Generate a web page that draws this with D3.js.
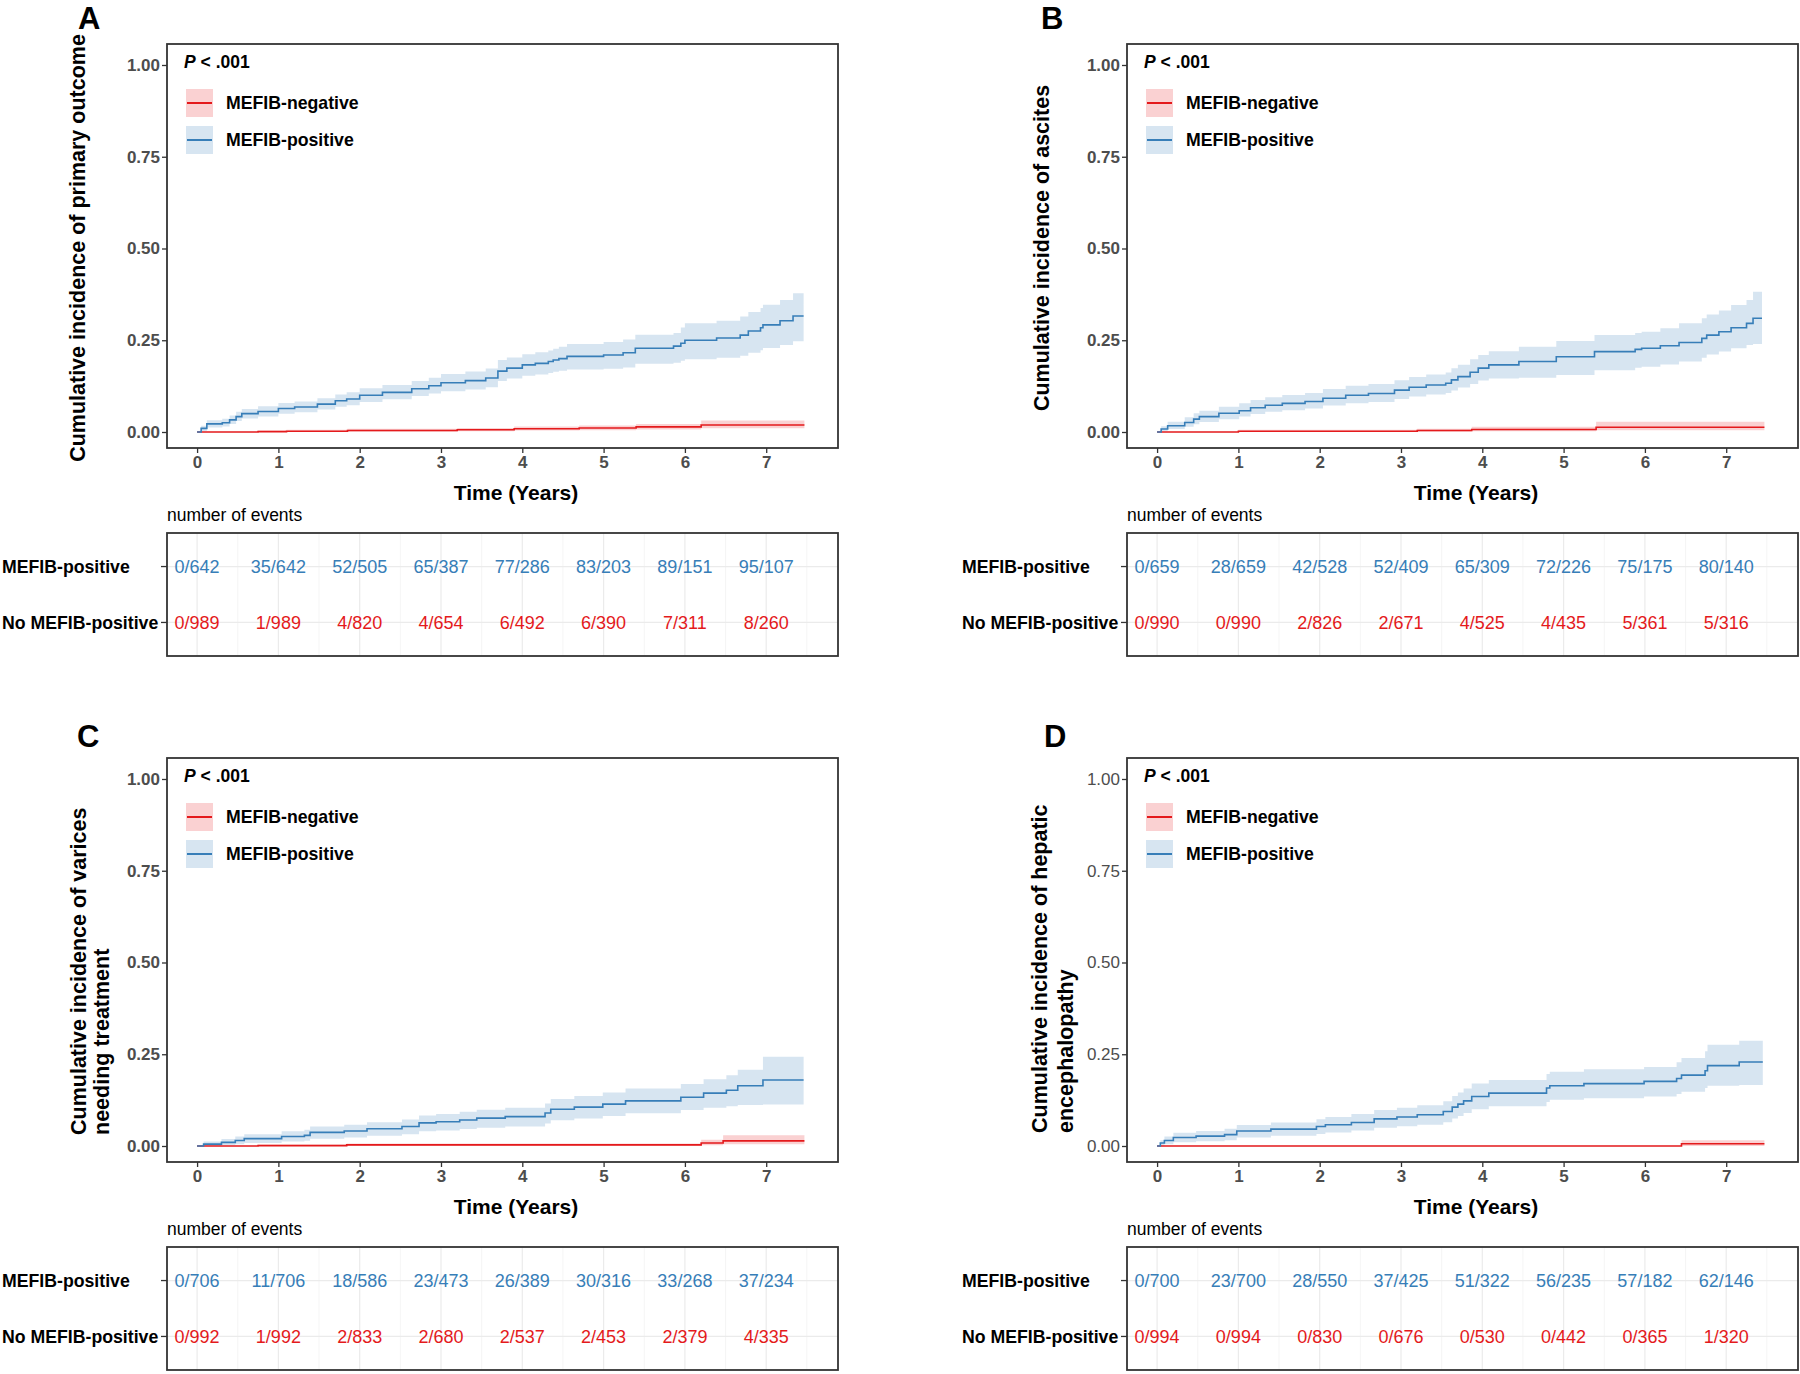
<!DOCTYPE html>
<html>
<head>
<meta charset="utf-8">
<script src="https://cdn.jsdelivr.net/npm/d3@7"></script>
<style>
  body { margin: 0; background: #fff; }
  svg { font-family: "Liberation Sans", Arial, Helvetica, sans-serif; }
</style>
</head>
<body>
<svg id="chart" width="1800" height="1374"></svg>
<script>
// ---- Panel A: primary outcome ----
const aPosT  = [0, 0.05, 0.12, 0.31, 0.40, 0.48, 0.55, 0.75, 1.00, 1.20, 1.48, 1.70, 1.84, 2.00, 2.28, 2.64, 2.85, 3.00, 3.30, 3.55, 3.70, 3.81, 4.00, 4.16, 4.32, 4.38, 4.45, 4.55, 5.00, 5.24, 5.39, 5.86, 5.95, 6.00, 6.39, 6.68, 6.78, 6.93, 6.96, 7.17, 7.33, 7.46];
const aPos   = [0, 0.010, 0.022, 0.025, 0.033, 0.042, 0.050, 0.056, 0.064, 0.068, 0.076, 0.085, 0.090, 0.100, 0.108, 0.118, 0.126, 0.134, 0.140, 0.147, 0.166, 0.174, 0.183, 0.187, 0.192, 0.196, 0.200, 0.206, 0.210, 0.216, 0.228, 0.234, 0.242, 0.250, 0.256, 0.264, 0.275, 0.284, 0.292, 0.303, 0.316, 0.316];
const aPosLo = [0, 0.003, 0.012, 0.015, 0.022, 0.030, 0.037, 0.042, 0.050, 0.054, 0.061, 0.069, 0.073, 0.082, 0.089, 0.098, 0.105, 0.111, 0.116, 0.122, 0.139, 0.146, 0.153, 0.157, 0.161, 0.164, 0.167, 0.170, 0.172, 0.176, 0.186, 0.189, 0.194, 0.198, 0.202, 0.208, 0.216, 0.223, 0.229, 0.237, 0.247, 0.247];
const aPosHi = [0, 0.017, 0.032, 0.036, 0.045, 0.055, 0.063, 0.070, 0.079, 0.083, 0.092, 0.102, 0.108, 0.119, 0.128, 0.139, 0.148, 0.158, 0.165, 0.173, 0.196, 0.203, 0.212, 0.217, 0.222, 0.227, 0.232, 0.240, 0.245, 0.252, 0.265, 0.270, 0.285, 0.296, 0.303, 0.315, 0.327, 0.338, 0.347, 0.360, 0.378, 0.378];
const aNegT  = [0, 0.75, 1.10, 1.85, 3.20, 3.90, 4.70, 5.40, 6.20, 7.47];
const aNeg   = [0, 0.001, 0.002, 0.004, 0.006, 0.009, 0.011, 0.014, 0.019, 0.019];
const aNegLo = [0, 0, 0, 0.001, 0.002, 0.004, 0.005, 0.007, 0.010, 0.010];
const aNegHi = [0, 0.004, 0.006, 0.009, 0.011, 0.015, 0.018, 0.022, 0.031, 0.031];
const aTabPos = ["0/642", "35/642", "52/505", "65/387", "77/286", "83/203", "89/151", "95/107"];
const aTabNeg = ["0/989", "1/989", "4/820", "4/654", "6/492", "6/390", "7/311", "8/260"];

// ---- Panel B: ascites ----
const bPosT  = [0, 0.05, 0.13, 0.34, 0.45, 0.52, 0.76, 1.01, 1.15, 1.33, 1.54, 1.82, 2.04, 2.32, 2.60, 2.92, 3.10, 3.31, 3.55, 3.62, 3.70, 3.85, 3.95, 4.08, 4.45, 4.91, 5.38, 5.88, 5.96, 6.19, 6.42, 6.70, 6.76, 6.91, 7.06, 7.25, 7.33, 7.44];
const bPos   = [0, 0.008, 0.017, 0.026, 0.035, 0.042, 0.051, 0.058, 0.066, 0.073, 0.078, 0.083, 0.092, 0.100, 0.105, 0.114, 0.122, 0.128, 0.133, 0.142, 0.151, 0.163, 0.174, 0.183, 0.192, 0.205, 0.219, 0.225, 0.228, 0.235, 0.244, 0.255, 0.264, 0.273, 0.284, 0.296, 0.310, 0.310];
const bPosLo = [0, 0.002, 0.008, 0.014, 0.021, 0.027, 0.035, 0.042, 0.049, 0.055, 0.059, 0.064, 0.072, 0.078, 0.082, 0.090, 0.097, 0.102, 0.106, 0.113, 0.121, 0.131, 0.140, 0.146, 0.148, 0.155, 0.168, 0.175, 0.178, 0.184, 0.192, 0.202, 0.211, 0.219, 0.228, 0.237, 0.240, 0.240];
const bPosHi = [0, 0.016, 0.028, 0.040, 0.051, 0.058, 0.069, 0.078, 0.087, 0.095, 0.101, 0.106, 0.117, 0.126, 0.131, 0.141, 0.150, 0.157, 0.162, 0.174, 0.183, 0.198, 0.210, 0.220, 0.232, 0.248, 0.264, 0.270, 0.273, 0.283, 0.296, 0.310, 0.320, 0.331, 0.346, 0.360, 0.382, 0.382];
const bNegT  = [0, 1.00, 3.20, 3.87, 5.40, 7.47];
const bNeg   = [0, 0.002, 0.004, 0.007, 0.013, 0.013];
const bNegLo = [0, 0, 0.001, 0.002, 0.005, 0.005];
const bNegHi = [0, 0.006, 0.009, 0.014, 0.028, 0.028];
const bTabPos = ["0/659", "28/659", "42/528", "52/409", "65/309", "72/226", "75/175", "80/140"];
const bTabNeg = ["0/990", "0/990", "2/826", "2/671", "4/525", "4/435", "5/361", "5/316"];

// ---- Panel C: varices needing treatment ----
const cPosT  = [0, 0.08, 0.30, 0.47, 0.58, 1.04, 1.32, 1.39, 1.81, 2.09, 2.52, 2.73, 2.94, 3.23, 3.44, 3.79, 4.28, 4.35, 4.64, 4.99, 5.27, 5.95, 6.23, 6.51, 6.65, 6.96, 7.46];
const cPos   = [0, 0.005, 0.010, 0.015, 0.020, 0.026, 0.029, 0.037, 0.041, 0.047, 0.053, 0.063, 0.066, 0.071, 0.076, 0.080, 0.090, 0.100, 0.106, 0.114, 0.123, 0.133, 0.144, 0.152, 0.164, 0.180, 0.180];
const cPosLo = [0, 0, 0.002, 0.005, 0.008, 0.012, 0.014, 0.020, 0.023, 0.028, 0.032, 0.040, 0.042, 0.046, 0.050, 0.053, 0.061, 0.070, 0.075, 0.082, 0.089, 0.098, 0.104, 0.108, 0.112, 0.113, 0.113];
const cPosHi = [0, 0.012, 0.019, 0.026, 0.032, 0.040, 0.044, 0.053, 0.058, 0.065, 0.072, 0.083, 0.087, 0.093, 0.099, 0.104, 0.116, 0.128, 0.136, 0.146, 0.157, 0.169, 0.182, 0.193, 0.208, 0.243, 0.243];
const cNegT  = [0, 0.75, 1.84, 6.20, 6.47, 7.47];
const cNeg   = [0, 0.001, 0.003, 0.008, 0.014, 0.014];
const cNegLo = [0, 0, 0, 0.002, 0.005, 0.005];
const cNegHi = [0, 0.004, 0.007, 0.017, 0.029, 0.029];
const cTabPos = ["0/706", "11/706", "18/586", "23/473", "26/389", "30/316", "33/268", "37/234"];
const cTabNeg = ["0/992", "1/992", "2/833", "2/680", "2/537", "2/453", "2/379", "4/335"];

// ---- Panel D: hepatic encephalopathy ----
const dPosT  = [0, 0.04, 0.09, 0.20, 0.48, 0.83, 0.98, 1.40, 1.96, 2.07, 2.39, 2.67, 2.95, 3.20, 3.52, 3.63, 3.70, 3.77, 3.87, 4.08, 4.79, 4.83, 5.25, 5.99, 6.39, 6.45, 6.74, 6.77, 7.16, 7.45];
const dPos   = [0, 0.008, 0.015, 0.023, 0.027, 0.031, 0.041, 0.046, 0.053, 0.058, 0.064, 0.074, 0.079, 0.085, 0.094, 0.106, 0.114, 0.123, 0.135, 0.144, 0.158, 0.164, 0.170, 0.176, 0.184, 0.193, 0.205, 0.219, 0.229, 0.229];
const dPosLo = [0, 0.001, 0.005, 0.010, 0.013, 0.016, 0.023, 0.028, 0.033, 0.037, 0.042, 0.050, 0.054, 0.058, 0.065, 0.075, 0.082, 0.090, 0.100, 0.108, 0.120, 0.126, 0.130, 0.135, 0.142, 0.148, 0.158, 0.164, 0.166, 0.166];
const dPosHi = [0, 0.016, 0.026, 0.036, 0.041, 0.047, 0.057, 0.064, 0.073, 0.079, 0.087, 0.098, 0.104, 0.111, 0.122, 0.136, 0.146, 0.157, 0.170, 0.180, 0.196, 0.202, 0.209, 0.215, 0.228, 0.240, 0.258, 0.276, 0.287, 0.287];
const dNegT  = [0, 6.45, 7.47];
const dNeg   = [0, 0.006, 0.006];
const dNegLo = [0, 0, 0];
const dNegHi = [0.001, 0.016, 0.016];
const dTabPos = ["0/700", "23/700", "28/550", "37/425", "51/322", "56/235", "57/182", "62/146"];
const dTabNeg = ["0/994", "0/994", "0/830", "0/676", "0/530", "0/442", "0/365", "1/320"];

// shared labels
const yTicks = [0, 0.25, 0.5, 0.75, 1];
const xTicks = [0, 1, 2, 3, 4, 5, 6, 7];
const tabYears = [0, 1, 2, 3, 4, 5, 6, 7];
const legendLabels = ["MEFIB-negative", "MEFIB-positive"];
const rowLabels = ["MEFIB-positive", "No MEFIB-positive"];

const RED = "#E41A1C";
const BLUE = "#377EB8";
const DARK = "#333333";
const TICKTXT = "#4D4D4D";

const panelW = 671, panelH = 404;
const tabTop = 489, tabH = 123;
const colLeft = [167, 1127];
const rowTop = [44, 758];

const panels = [
    { letter: "A", col: 0, row: 0, title: ["Cumulative incidence of primary outcome"], titleX: [-82], titleY: null,
      posT: aPosT, pos: aPos, posLo: aPosLo, posHi: aPosHi, negT: aNegT, neg: aNeg, negLo: aNegLo, negHi: aNegHi,
      tabPos: aTabPos, tabNeg: aTabNeg, boldY: true, letterX: 78 },
    { letter: "B", col: 1, row: 0, title: ["Cumulative incidence of ascites"], titleX: [-78], titleY: null,
      posT: bPosT, pos: bPos, posLo: bPosLo, posHi: bPosHi, negT: bNegT, neg: bNeg, negLo: bNegLo, negHi: bNegHi,
      tabPos: bTabPos, tabNeg: bTabNeg, boldY: true, letterX: 1041 },
    { letter: "C", col: 0, row: 1, title: ["Cumulative incidence of varices", "needing treatment"], titleX: [-81, -58], titleY: 377,
      posT: cPosT, pos: cPos, posLo: cPosLo, posHi: cPosHi, negT: cNegT, neg: cNeg, negLo: cNegLo, negHi: cNegHi,
      tabPos: cTabPos, tabNeg: cTabNeg, boldY: true, letterX: 77 },
    { letter: "D", col: 1, row: 1, title: ["Cumulative incidence of hepatic", "encephalopathy"], titleX: [-80, -54], titleY: 375,
      posT: dPosT, pos: dPos, posLo: dPosLo, posHi: dPosHi, negT: dNegT, neg: dNeg, negLo: dNegLo, negHi: dNegHi,
      tabPos: dTabPos, tabNeg: dTabNeg, boldY: false, letterX: 1044 }
];

const svg = d3.select("#chart");

const x = d3.scaleLinear().domain([-0.37, 7.883]).range([0, panelW]);
const y = d3.scaleLinear().domain([-0.0436, 1.0572]).range([panelH, 0]);
const yTab = d3.scalePoint().domain(["No MEFIB-positive", "MEFIB-positive"]).range([tabH, 0]).padding(0.6);

function series(ts, est, lo, hi) {
    return ts.map((t, i) => ({ t: t, v: est[i], lo: lo[i], hi: hi[i] }));
}

const line = d3.line().curve(d3.curveStepAfter).x(d => x(d.t)).y(d => y(d.v));
const band = d3.area().curve(d3.curveStepAfter).x(d => x(d.t)).y0(d => y(d.lo)).y1(d => y(d.hi));

function drawPanel(p) {
    const left = colLeft[p.col], top = rowTop[p.row];
    const g = svg.append("g").attr("transform", `translate(${left},${top})`);

    // panel letter
    svg.append("text")
        .attr("x", p.letterX).attr("y", top - 15 + (p.row ? 4 : 0))
        .attr("font-size", 31).attr("font-weight", "bold")
        .text(p.letter);

    // bands + curves
    const neg = series(p.negT, p.neg, p.negLo, p.negHi);
    const pos = series(p.posT, p.pos, p.posLo, p.posHi);

    g.append("path").datum(neg).attr("d", band).attr("fill", RED).attr("fill-opacity", 0.2);
    g.append("path").datum(pos).attr("d", band).attr("fill", BLUE).attr("fill-opacity", 0.2);
    g.append("path").datum(neg).attr("d", line).attr("fill", "none").attr("stroke", RED).attr("stroke-width", 1.6);
    g.append("path").datum(pos).attr("d", line).attr("fill", "none").attr("stroke", BLUE).attr("stroke-width", 1.6);

    // axes
    const yAxis = g.append("g")
        .call(d3.axisLeft(y).tickValues(yTicks).tickFormat(d3.format(".2f")).tickSize(5).tickPadding(2));
    const xAxis = g.append("g").attr("transform", `translate(0,${panelH})`)
        .call(d3.axisBottom(x).tickValues(xTicks).tickFormat(d3.format("d")).tickSize(5).tickPadding(3));
    [yAxis, xAxis].forEach(a => {
        a.select(".domain").remove();
        a.selectAll("line").attr("stroke", DARK).attr("stroke-width", 1.3);
        a.selectAll("text").attr("fill", TICKTXT).attr("font-size", 17)
            .attr("font-family", "'Liberation Sans', Arial, sans-serif");
    });
    yAxis.selectAll("text").attr("font-weight", p.boldY ? "bold" : "normal");
    xAxis.selectAll("text").attr("font-weight", "bold");

    // border
    g.append("rect").attr("width", panelW).attr("height", panelH)
        .attr("fill", "none").attr("stroke", DARK).attr("stroke-width", 1.8);

    // y title
    p.title.forEach((line, i) => {
        const cy = p.titleY === null ? panelH / 2 + 2 : p.titleY;
        g.append("text")
            .attr("transform", `translate(${p.titleX[i]},${cy}) rotate(-90)`)
            .attr("text-anchor", p.titleY === null ? "middle" : "start")
            .attr("font-size", 21.5).attr("font-weight", "bold")
            .text(line);
    });

    // x title
    g.append("text").attr("x", 349).attr("y", 456)
        .attr("text-anchor", "middle").attr("font-size", 21).attr("font-weight", "bold")
        .text("Time (Years)");

    // p value
    const pv = g.append("text").attr("x", 17).attr("y", 24).attr("font-size", 17.5).attr("font-weight", "bold");
    pv.append("tspan").attr("font-style", "italic").text("P");
    pv.append("tspan").text(" < .001");

    // legend
    const leg = g.append("g").attr("transform", "translate(19,45)");
    [RED, BLUE].forEach((c, i) => {
        const li = leg.append("g").attr("transform", `translate(0,${i * 37})`);
        li.append("rect").attr("width", 27).attr("height", 28).attr("fill", c).attr("fill-opacity", 0.2);
        li.append("line").attr("x1", 1).attr("x2", 26).attr("y1", 14).attr("y2", 14)
            .attr("stroke", c).attr("stroke-width", 2);
        li.append("text").attr("x", 40).attr("y", 14).attr("dy", "0.35em")
            .attr("font-size", 17.7).attr("font-weight", "bold").text(legendLabels[i]);
    });

    // risk table
    g.append("text").attr("x", 0).attr("y", tabTop - 12).attr("font-size", 17.5).text("number of events");
    const tg = g.append("g").attr("transform", `translate(0,${tabTop})`);
    const minor = d3.range(-0.5, 8, 0.5).filter(v => x(v) > 1 && x(v) < panelW - 1);
    tg.selectAll("line.vg").data(minor).enter().append("line")
        .attr("x1", d => x(d)).attr("x2", d => x(d)).attr("y1", 0).attr("y2", tabH)
        .attr("stroke", d => Number.isInteger(d) ? "#EBEBEB" : "#F3F3F3")
        .attr("stroke-width", d => Number.isInteger(d) ? 1.2 : 0.8);
    tg.selectAll("line.hg").data(rowLabels).enter().append("line")
        .attr("x1", 0).attr("x2", panelW).attr("y1", d => yTab(d)).attr("y2", d => yTab(d))
        .attr("stroke", "#EBEBEB").attr("stroke-width", 1.2);
    tg.selectAll("text.pos").data(p.tabPos).enter().append("text")
        .attr("x", (d, i) => x(tabYears[i])).attr("y", yTab("MEFIB-positive")).attr("dy", "0.36em")
        .attr("text-anchor", "middle").attr("font-size", 18).attr("fill", BLUE).text(d => d);
    tg.selectAll("text.neg").data(p.tabNeg).enter().append("text")
        .attr("x", (d, i) => x(tabYears[i])).attr("y", yTab("No MEFIB-positive")).attr("dy", "0.36em")
        .attr("text-anchor", "middle").attr("font-size", 18).attr("fill", RED).text(d => d);
    rowLabels.forEach(r => {
        tg.append("line").attr("x1", -6).attr("x2", 0).attr("y1", yTab(r)).attr("y2", yTab(r))
            .attr("stroke", DARK).attr("stroke-width", 1.3);
        tg.append("text").attr("x", -165).attr("y", yTab(r)).attr("dy", "0.35em")
            .attr("font-size", 17.7).attr("font-weight", "bold").text(r);
    });
    tg.append("rect").attr("width", panelW).attr("height", tabH)
        .attr("fill", "none").attr("stroke", DARK).attr("stroke-width", 1.8);
}

panels.forEach(drawPanel);
</script>
</body>
</html>
